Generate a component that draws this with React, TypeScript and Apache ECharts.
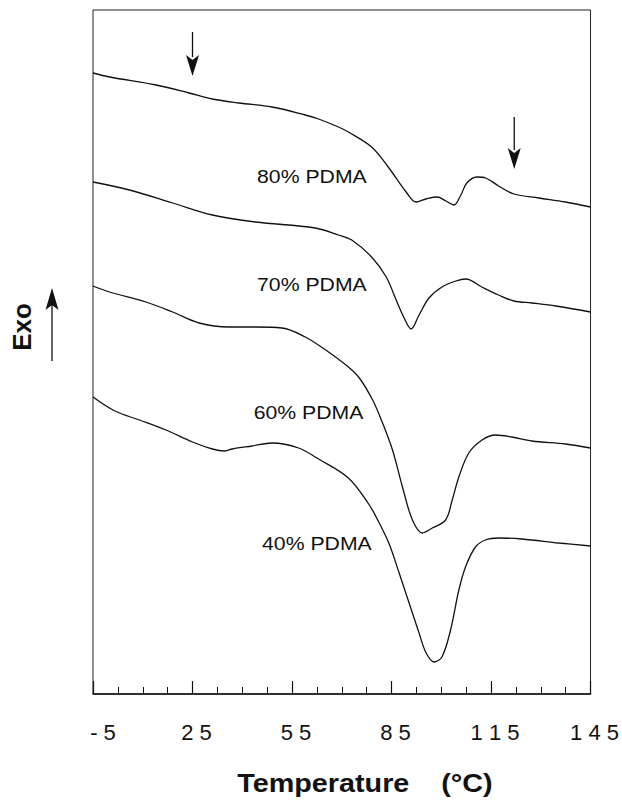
import React, { useEffect, useRef } from "react";
import * as echarts from "echarts";

// Temperature (°C) sample points and heat-flow (arbitrary units, exo up) for each DSC trace
const temps80 = [-5, 0, 14, 24, 31, 39, 49, 59, 63, 69, 72, 79, 84, 89.4, 92.4, 95.4, 98.7, 101.4, 103.8, 105.9, 107.7, 110.7, 113.4, 117.3, 121.9, 129.4, 137.5, 145];
const heat80 = [62.1, 61.7, 60.9, 60.1, 59.5, 59.1, 58.7, 57.9, 57.5, 56.7, 56.2, 54.7, 52.7, 50.2, 49.2, 49.5, 49.7, 49.3, 48.9, 49.9, 51.1, 51.7, 51.6, 50.8, 50.0, 49.6, 49.2, 48.7];

const temps70 = [-5, 6, 19, 31, 44, 62, 69, 73, 79, 83.4, 86.4, 88.8, 90.9, 93.3, 96.3, 100.2, 104.4, 107.4, 112.2, 117.3, 121.9, 127.3, 134.5, 145];
const heat70 = [51.2, 50.4, 49.1, 47.9, 47.2, 46.6, 45.9, 45.4, 43.7, 41.7, 39.4, 37.6, 36.5, 37.9, 39.6, 40.7, 41.3, 41.5, 40.7, 39.9, 39.3, 39.1, 38.8, 38.2];

const temps60 = [-5, 0, 11, 19, 27, 36, 44, 52, 59, 66, 72, 75.3, 79.3, 82.3, 85.3, 88.3, 91.3, 94.3, 97.3, 101.3, 103.3, 105.3, 108.3, 112.3, 116.4, 121.3, 127.3, 137.5, 145];
const heat60 = [40.8, 40.2, 39.2, 38.2, 37.1, 36.7, 36.7, 36.6, 35.7, 34.2, 32.7, 31.6, 29.4, 27.1, 24.4, 20.7, 17.4, 16.1, 16.6, 17.4, 19.4, 21.7, 24.1, 25.4, 25.9, 25.7, 25.3, 25.0, 24.6];

const temps40 = [-5, 1.6, 9, 17, 25, 31, 34.7, 37, 43, 49, 57, 63, 72, 78.3, 81.3, 84.3, 87.3, 90.3, 93.3, 95.3, 97.8, 100.2, 102.8, 105.3, 107.3, 110.3, 113.3, 117.3, 124.3, 135.4, 145];
const heat40 = [29.7, 28.3, 27.4, 26.4, 25.2, 24.5, 24.3, 24.5, 24.8, 25.1, 24.6, 23.5, 21.6, 18.9, 17.1, 15.0, 12.1, 9.1, 6.1, 4.2, 3.2, 3.7, 6.4, 10.4, 12.7, 14.7, 15.4, 15.6, 15.5, 15.1, 14.8];

const seriesNames = ["80% PDMA", "70% PDMA", "60% PDMA", "40% PDMA"];
const seriesTemps = [temps80, temps70, temps60, temps40];
const seriesHeat = [heat80, heat70, heat60, heat40];
// label anchor (temperature, heat-flow) for each trace name
const labelTemps = [61, 61, 60, 62.5];
const labelHeat = [51.7, 40.9, 28.1, 15.0];

// transition arrows: temperature, top of shaft, tip
const arrowTemps = [25, 122];
const arrowTops = [66.2, 57.7];
const arrowTips = [61.8, 52.5];

const xMin = -5;
const xMax = 145;
const xStep = 30;
const yMin = 0;
const yMax = 68.4;

const FONT = "'Liberation Sans', Arial, Helvetica, sans-serif";

export default function App() {
  const ref = useRef<HTMLDivElement>(null);
  useEffect(() => {
    if (!ref.current) return;
    const chart = echarts.init(ref.current, undefined, { renderer: "svg" });
    const series = seriesNames.map((name, i) => ({
      type: "line",
      name,
      data: seriesTemps[i].map((t, j) => [t, seriesHeat[i][j]]),
      showSymbol: false,
      smooth: 0.35,
      lineStyle: { color: "#111", width: 1.3 },
      z: 3,
    }));
    chart.setOption({
      animation: false,
      backgroundColor: "#fff",
      grid: {
        left: 93,
        right: 30,
        top: 10,
        bottom: 106,
        show: true,
        borderColor: "#222",
        borderWidth: 1,
        backgroundColor: "transparent",
      },
      xAxis: {
        type: "value",
        min: xMin,
        max: xMax,
        interval: xStep,
        axisLine: { show: true, onZero: false, lineStyle: { color: "#111", width: 1.6 } },
        axisTick: { show: true, inside: true, length: 13, lineStyle: { color: "#111", width: 1.2 } },
        minorTick: { show: true, splitNumber: 4, length: 7, lineStyle: { color: "#111", width: 1 } },
        splitLine: { show: false },
        minorSplitLine: { show: false },
        axisLabel: {
          show: true,
          margin: 27,
          fontFamily: FONT,
          fontSize: 22,
          color: "#111",
          showMinLabel: true,
          showMaxLabel: true,
          formatter: (v: number) => {
            if (v < 0) return "{neg|- " + Math.abs(v) + "}";
            return String(v).split("").join(" ");
          },
          rich: {
            neg: { fontFamily: FONT, fontSize: 22, color: "#111", padding: [0, 0, 0, 12] },
          },
          padding: [0, 0, 0, 8],
        },
      },
      yAxis: {
        type: "value",
        min: yMin,
        max: yMax,
        show: true,
        axisLine: { show: false },
        axisTick: { show: false },
        axisLabel: { show: false },
        splitLine: { show: false },
      },
      series,
    });

    const centered = { textAlign: "center", textVerticalAlign: "middle", align: "center", verticalAlign: "middle" };
    const graphics: any[] = [];
    seriesNames.forEach((name, i) => {
      const p = chart.convertToPixel({ gridIndex: 0 }, [labelTemps[i], labelHeat[i]]) as number[];
      graphics.push({
        type: "text",
        x: p[0],
        y: p[1],
        scaleX: 1.18,
        style: {
          text: name,
          font: "18px " + FONT,
          fill: "#111",
          ...centered,
        },
      });
    });
    arrowTemps.forEach((t, i) => {
      const top = chart.convertToPixel({ gridIndex: 0 }, [t, arrowTops[i]]) as number[];
      const tip = chart.convertToPixel({ gridIndex: 0 }, [t, arrowTips[i]]) as number[];
      const headLen = 21;
      graphics.push({
        type: "line",
        shape: { x1: top[0], y1: top[1], x2: tip[0], y2: tip[1] - headLen + 2 },
        style: { stroke: "#111", lineWidth: 1.3 },
      });
      graphics.push({
        type: "polygon",
        shape: {
          points: [
            [tip[0] - 6.5, tip[1] - headLen],
            [tip[0], tip[1] - headLen + 5],
            [tip[0] + 6.5, tip[1] - headLen],
            [tip[0], tip[1]],
          ],
        },
        style: { fill: "#111" },
      });
    });
    // Exo label and upward arrow
    graphics.push({
      type: "text",
      x: 22,
      y: 327,
      rotation: Math.PI / 2,
      style: {
        text: "Exo",
        font: "bold 26px " + FONT,
        fill: "#111",
        ...centered,
      },
    });
    graphics.push({
      type: "line",
      shape: { x1: 52, y1: 361, x2: 52, y2: 305 },
      style: { stroke: "#111", lineWidth: 1.3 },
    });
    graphics.push({
      type: "polygon",
      shape: {
        points: [
          [45.5, 310],
          [52, 305],
          [58.5, 310],
          [52, 288],
        ],
      },
      style: { fill: "#111" },
    });
    graphics.push({
      type: "text",
      x: 365,
      y: 784,
      scaleX: 1.15,
      style: {
        text: "Temperature    (°C)",
        font: "bold 25px " + FONT,
        fill: "#111",
        ...centered,
      },
    });
    chart.setOption({ graphic: graphics });

    return () => chart.dispose();
  }, []);
  return (
    <div
      ref={ref}
      style={{ position: "fixed", left: 0, top: 0, width: 622, height: 800, background: "#fff" }}
    />
  );
}
